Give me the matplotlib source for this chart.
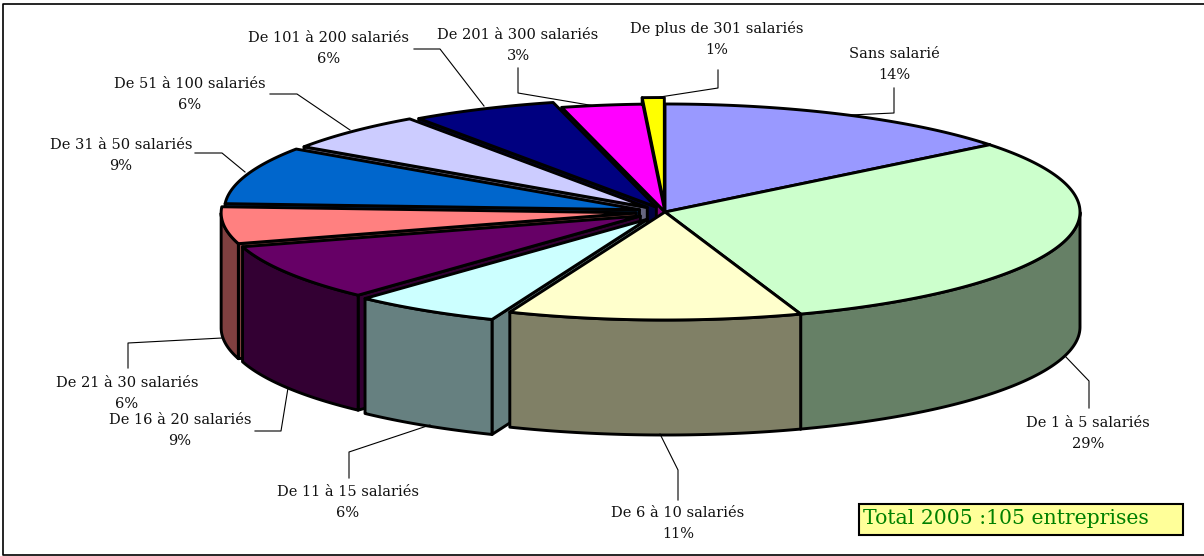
import numpy as np
import matplotlib
matplotlib.use("Agg")
import matplotlib.pyplot as plt
from matplotlib.colors import to_rgb
from matplotlib.patches import Polygon, Rectangle

# slices, clockwise from the top of the pie
categories = ["Sans salarié", "De 1 à 5 salariés", "De 6 à 10 salariés",
              "De 11 à 15 salariés", "De 16 à 20 salariés", "De 21 à 30 salariés",
              "De 31 à 50 salariés", "De 51 à 100 salariés", "De 101 à 200 salariés",
              "De 201 à 300 salariés", "De plus de 301 salariés"]
pct_labels = ["14%", "29%", "11%", "6%", "9%", "6%", "9%", "6%", "6%", "3%", "1%"]
# angular share of each slice as drawn
shares = [14.3, 30.4, 11.4, 5.8, 8.5, 5.5, 8.6, 5.8, 5.7, 3.15, 0.85]
explode = [0, 0, 0, 0.08, 0.07, 0.07, 0.065, 0.06, 0.05, 0.0, 0.06]
colors = ["#9999FF", "#CCFFCC", "#FFFFCC", "#CCFFFF", "#660066", "#FF8080",
          "#0066CC", "#CCCCFF", "#000080", "#FF00FF", "#FFFF00"]

# label centre and leader line for each slice, in pixels
label_pos = [(894, 64), (1088, 433), (678, 523), (348, 502), (180, 430), (127, 393),
             (121, 155), (190, 94), (329, 48), (518, 45), (717, 39)]
leaders = [[(894, 88), (894, 113), (850, 115)],
           [(1089, 408), (1089, 381), (1065, 356)],
           [(678, 500), (678, 470), (660, 434)],
           [(349, 478), (349, 452), (430, 425)],
           [(255, 431), (281, 431), (288, 388)],
           [(128, 368), (128, 343), (222, 338)],
           [(195, 153), (222, 153), (245, 172)],
           [(270, 94), (297, 94), (350, 130)],
           [(414, 49), (440, 49), (484, 106)],
           [(518, 68), (518, 93), (595, 106)],
           [(718, 70), (718, 88), (660, 97)]]

CX, CY = 665, 212
RX, RY = 415, 108
DEPTH = 115
LW = 2.1
FONT = "DejaVu Serif"


def rim(a, tip):
    return np.column_stack([tip[0] + RX * np.sin(a), tip[1] - RY * np.cos(a)])


def draw_slice(ax, start, end, k, color):
    mid = (start + end) / 2
    tip = (CX + k * RX * np.sin(mid), CY - k * RY * np.cos(mid))
    side = tuple(c * 0.5 for c in to_rgb(color))
    down = np.array([0, DEPTH])
    a = np.linspace(start, end, 120)
    arc = rim(a, tip)

    # radial walls, only the ones that face the viewer
    if start > np.pi:
        wall = [tip, arc[0], arc[0] + down, np.array(tip) + down]
        ax.add_patch(Polygon(wall, closed=True, fc=side, ec="black", lw=LW, joinstyle="round"))
    if end < np.pi:
        wall = [tip, arc[-1], arc[-1] + down, np.array(tip) + down]
        ax.add_patch(Polygon(wall, closed=True, fc=side, ec="black", lw=LW, joinstyle="round"))

    # only the part of the rim facing the viewer has an outer wall
    front = a[(a > np.pi / 2) & (a < 3 * np.pi / 2)]
    if len(front) > 1:
        f = rim(front, tip)
        ax.add_patch(Polygon(np.vstack([f, (f + down)[::-1]]), closed=True, fc=side,
                             ec="black", lw=LW, joinstyle="round"))

    ax.add_patch(Polygon(np.vstack([[tip], arc]), closed=True, fc=color, ec="black",
                         lw=LW, joinstyle="round"))


fig = plt.figure(figsize=(12.04, 5.56), dpi=100)
ax = fig.add_axes([0, 0, 1, 1])
ax.set_xlim(0, 1204)
ax.set_ylim(556, 0)
ax.axis("off")

# frame has no right side
ax.plot([1204, 2.5, 2.5, 1204], [3.5, 3.5, 555, 555], color="black", lw=1.2)

bounds = 2 * np.pi * np.cumsum([0] + shares) / sum(shares)
mids = (bounds[:-1] + bounds[1:]) / 2

for pts in leaders:
    xs, ys = zip(*pts)
    ax.plot(xs, ys, color="black", lw=0.8)

# back slices first
for i in np.argsort(-np.cos(mids)):
    draw_slice(ax, bounds[i], bounds[i + 1], explode[i], colors[i])

for name, pct, (x, y) in zip(categories, pct_labels, label_pos):
    ax.text(x, y - 10, name, ha="center", va="center", family=FONT, fontsize=10.5, color="#111111")
    ax.text(x, y + 11, pct, ha="center", va="center", family=FONT, fontsize=10.5, color="#111111")

ax.add_patch(Rectangle((858.5, 503.5), 324, 31, fc="#FFFF99", ec="black", lw=1.5))
ax.text(863, 519, "Total 2005 :105 entreprises", ha="left", va="center",
        family=FONT, fontsize=14.7, color="#008000")

fig.savefig("out.png", dpi=100)
